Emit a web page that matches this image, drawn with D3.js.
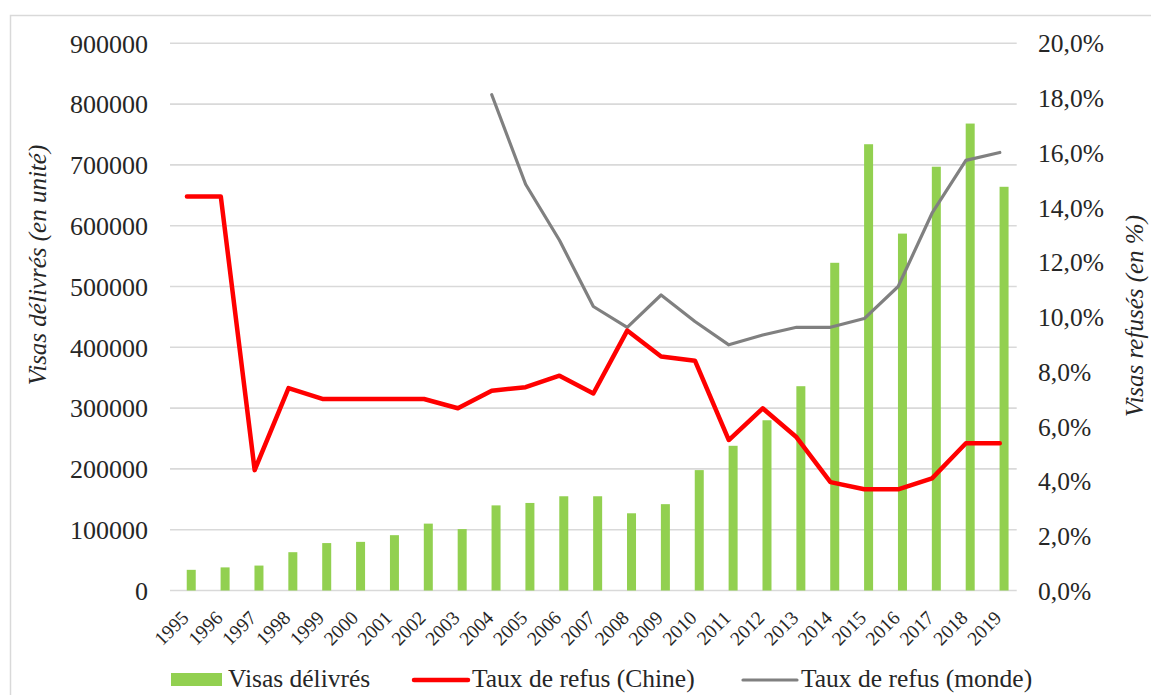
<!DOCTYPE html>
<html>
<head>
<meta charset="utf-8">
<script src="https://cdn.jsdelivr.net/npm/d3@7"></script>
<style>
  html, body { margin: 0; padding: 0; background: #fff; }
  svg { display: block; }
  svg text { font-family: "Liberation Serif", "Times New Roman", serif !important; }
</style>
</head>
<body>
<svg id="chart" width="1151" height="695"></svg>
<script>
const years = ["1995","1996","1997","1998","1999","2000","2001","2002","2003","2004","2005","2006","2007","2008","2009","2010","2011","2012","2013","2014","2015","2016","2017","2018","2019"];
const visas = [34000, 38000, 41000, 63000, 78000, 80000, 91000, 110000, 101000, 140000, 144000, 155000, 155000, 127000, 142000, 198000, 238000, 280000, 336000, 539000, 734000, 587000, 697000, 768000, 664000];
const refusChine = [14.4, 14.4, 4.4, 7.4, 7.0, 7.0, 7.0, 7.0, 6.66, 7.3, 7.43, 7.85, 7.2, 9.5, 8.55, 8.4, 5.5, 6.66, 5.6, 3.96, 3.7, 3.7, 4.1, 5.38, 5.38];
const refusMonde = [null, null, null, null, null, null, null, null, null, 18.12, 14.85, 12.8, 10.38, 9.62, 10.8, 9.83, 8.98, 9.34, 9.62, 9.62, 9.94, 11.11, 13.79, 15.72, 16.01];
const leftTicks = [0, 100000, 200000, 300000, 400000, 500000, 600000, 700000, 800000, 900000];
const rightTicks = [0, 2, 4, 6, 8, 10, 12, 14, 16, 18, 20];

const svg = d3.select("#chart");
const x0 = 170, x1 = 1016.7, yTop = 43.3, yBot = 590.5;
const FONT = "'Liberation Serif', 'Times New Roman', serif";
const TXT = "#262626";

// frame
svg.append("rect").attr("x", 10.5).attr("y", 15.5).attr("width", 1160).attr("height", 700)
  .attr("fill", "none").attr("stroke", "#d9d9d9").attr("stroke-width", 1.5);

const x = d3.scaleBand().domain(years).range([x0, x1]).padding(0);
const yL = d3.scaleLinear().domain([0, 900000]).range([yBot, yTop]);
const yR = d3.scaleLinear().domain([0, 20]).range([yBot, yTop]);
const cx = d => x(d) + x.bandwidth() / 2;

// gridlines
svg.append("g").selectAll("line").data(leftTicks).join("line")
  .attr("x1", x0).attr("x2", x1)
  .attr("y1", d => yL(d)).attr("y2", d => yL(d))
  .attr("stroke", "#d9d9d9").attr("stroke-width", 1.6);

// left axis labels
const axL = d3.axisLeft(yL).tickValues(leftTicks).tickFormat(d3.format("d")).tickSize(0).tickPadding(0);
const gL = svg.append("g").attr("transform", "translate(148,0)").call(axL);
gL.attr("font-family", FONT);
gL.select(".domain").remove();
gL.selectAll("text").attr("font-size", 26).attr("fill", TXT).style("font-family", FONT).attr("dy", "0.34em");

// right axis labels
const axR = d3.axisRight(yR).tickValues(rightTicks).tickFormat(d => d3.format(".1f")(d).replace(".", ",") + "%").tickSize(0).tickPadding(0);
const gR = svg.append("g").attr("transform", "translate(1038,0)").call(axR);
gR.attr("font-family", FONT);
gR.select(".domain").remove();
gR.selectAll("text").attr("font-size", 25.5).attr("fill", TXT).style("font-family", FONT).attr("dy", "0.34em");

// bars
svg.append("g").selectAll("rect").data(years).join("rect")
  .attr("x", d => cx(d) - 0.2)
  .attr("width", 9)
  .attr("y", (d, i) => yL(visas[i]))
  .attr("height", (d, i) => yBot - yL(visas[i]))
  .attr("fill", "#92d050");

// x labels
svg.append("g").selectAll("text").data(years).join("text")
  .attr("transform", d => `translate(${cx(d) + 3},${619}) rotate(-45)`)
  .attr("text-anchor", "end")
  .attr("font-size", 19.5).attr("fill", TXT).style("font-family", FONT)
  .text(d => d);

// lines
const lineGen = d3.line()
  .defined(d => d.v != null)
  .x(d => cx(d.year)).y(d => yR(d.v));

svg.append("path")
  .datum(years.map((y, i) => ({year: y, v: refusMonde[i]})))
  .attr("d", lineGen).attr("fill", "none").attr("stroke", "#808080")
  .attr("stroke-width", 3.2).attr("stroke-linejoin", "round").attr("stroke-linecap", "round");

svg.append("path")
  .datum(years.map((y, i) => ({year: y, v: refusChine[i]})))
  .attr("d", lineGen).attr("fill", "none").attr("stroke", "#ff0000")
  .attr("stroke-width", 4.5).attr("stroke-linejoin", "round").attr("stroke-linecap", "round");

// axis titles
svg.append("text").attr("transform", "translate(46,265) rotate(-90)")
  .attr("text-anchor", "middle").attr("font-size", 25).attr("font-style", "italic").attr("fill", TXT)
  .style("font-family", FONT)
  .text("Visas délivrés (en unité)");
svg.append("text").attr("transform", "translate(1143,316) rotate(-90)")
  .attr("text-anchor", "middle").attr("font-size", 25).attr("font-style", "italic").attr("fill", TXT)
  .style("font-family", FONT)
  .text("Visas refusés (en %)");

// legend
const lg = svg.append("g").attr("font-size", 25.5).attr("fill", TXT);
lg.append("rect").attr("x", 171).attr("y", 673).attr("width", 51).attr("height", 13).attr("fill", "#92d050");
lg.append("text").attr("x", 228).attr("y", 687).style("font-family", FONT).text("Visas délivrés");
lg.append("line").attr("x1", 414).attr("x2", 468).attr("y1", 680).attr("y2", 680)
  .attr("stroke", "#ff0000").attr("stroke-width", 4.5).attr("stroke-linecap", "round");
lg.append("text").attr("x", 472).attr("y", 687).style("font-family", FONT).text("Taux de refus (Chine)");
lg.append("line").attr("x1", 743).attr("x2", 797).attr("y1", 680).attr("y2", 680)
  .attr("stroke", "#808080").attr("stroke-width", 3.2).attr("stroke-linecap", "round");
lg.append("text").attr("x", 801).attr("y", 687).style("font-family", FONT).text("Taux de refus (monde)");
</script>
</body>
</html>
